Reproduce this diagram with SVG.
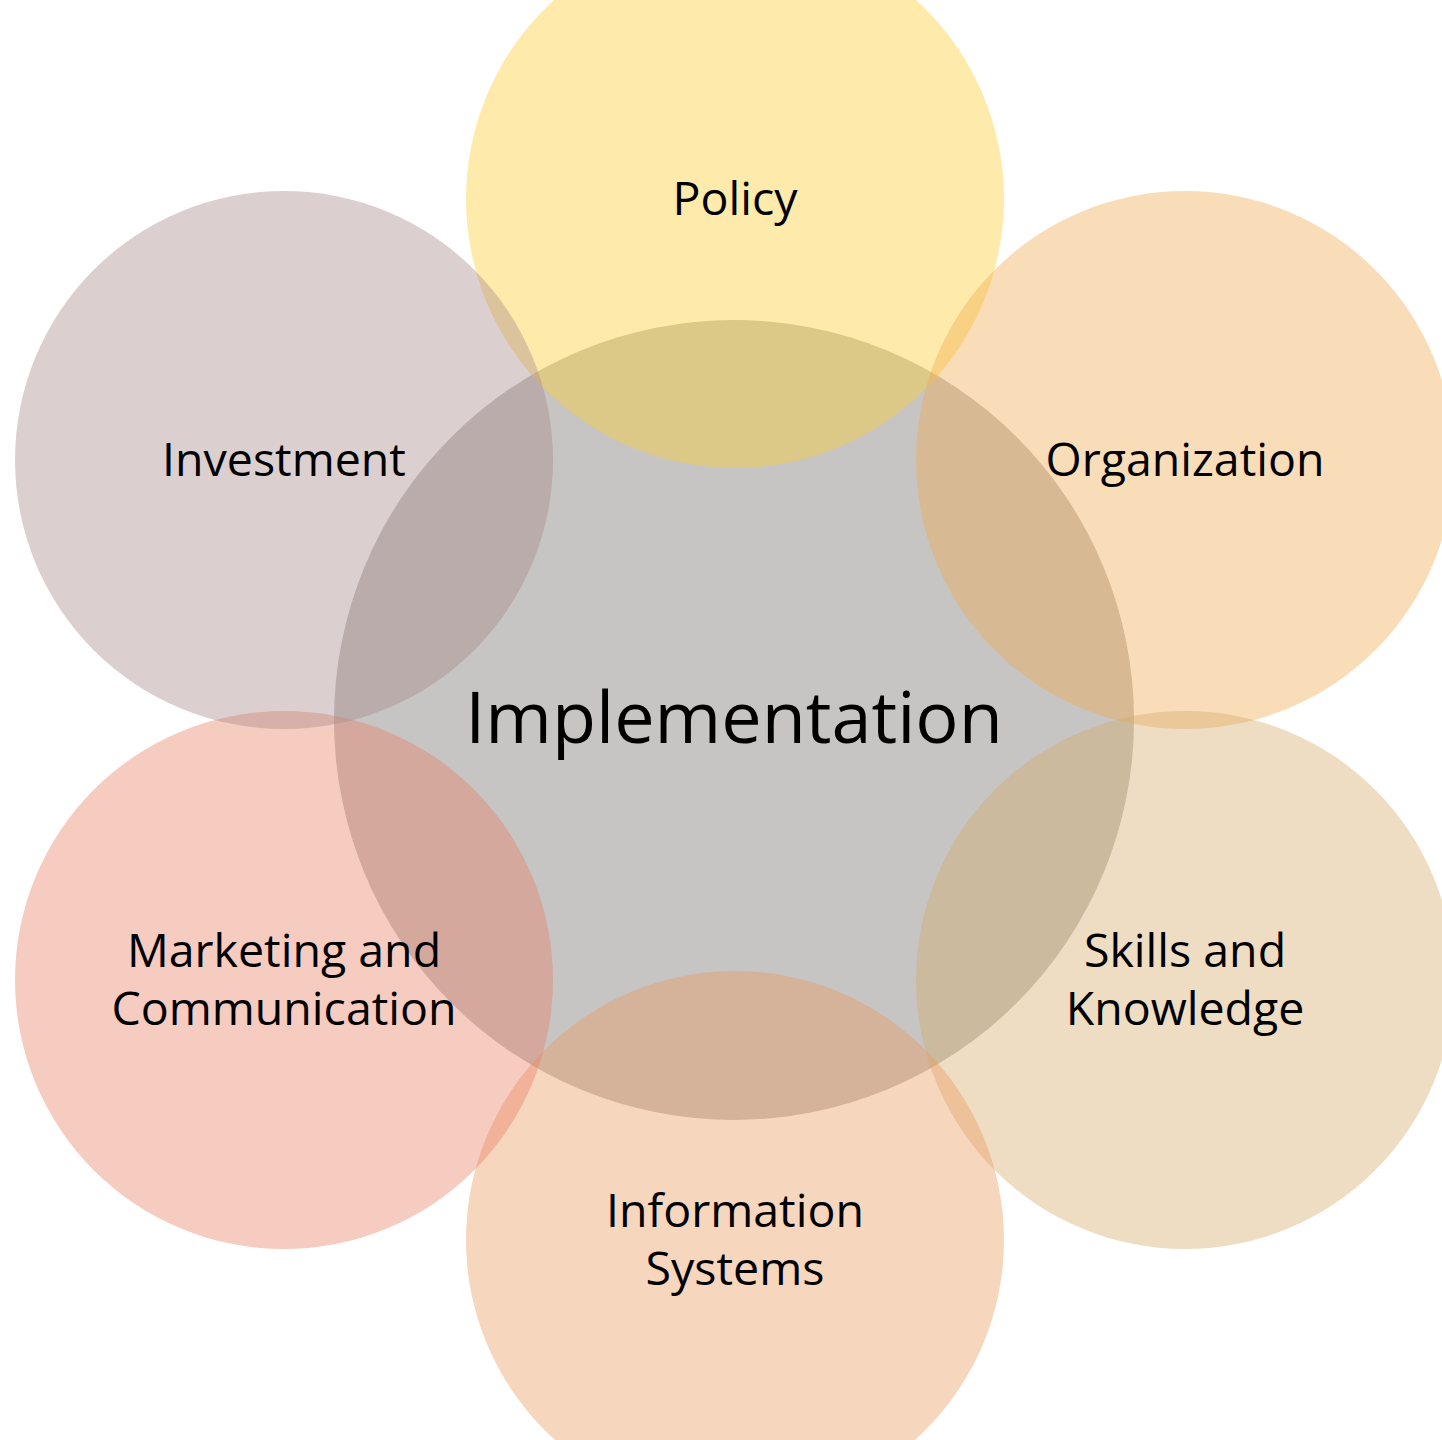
<svg xmlns="http://www.w3.org/2000/svg" width="1442" height="1440" viewBox="0 0 1442 1440">
<style>
.lbl{font-family:"Open Sans","Noto Sans",sans-serif;font-size:46.5px;fill:#000;text-anchor:middle}
.big{font-size:72px}
.sat{fill-opacity:0.4}
</style>
<rect width="1442" height="1440" fill="#fff"/>
<g id="implementation">
<circle cx="734" cy="720" r="400" fill="#c6c5c4"/>
</g>
<g id="policy">
<circle class="sat" cx="735" cy="199" r="269" fill="#fccd2d"/>
</g>
<g id="organization">
<circle class="sat" cx="1185" cy="460" r="269" fill="#f0aa4e"/>
</g>
<g id="skills">
<circle class="sat" cx="1185" cy="980" r="269" fill="#d4aa69"/>
</g>
<g id="information">
<circle class="sat" cx="735" cy="1240" r="269" fill="#eb985c"/>
</g>
<g id="marketing">
<circle class="sat" cx="284" cy="980" r="269" fill="#e87d62"/>
</g>
<g id="investment">
<circle class="sat" cx="284" cy="460" r="269" fill="#a88888"/>
</g>
<g id="connectors"></g>
<g id="labels">
<text class="lbl" x="735" y="215">Policy</text>
<text class="lbl" x="284" y="476">Investment</text>
<text class="lbl" x="1185" y="476">Organization</text>
<text class="lbl big" x="734" y="743">Implementation</text>
<text class="lbl" x="284" y="967">Marketing and</text>
<text class="lbl" x="284" y="1025">Communication</text>
<text class="lbl" x="1185" y="967">Skills and</text>
<text class="lbl" x="1185" y="1025">Knowledge</text>
<text class="lbl" x="735" y="1227">Information</text>
<text class="lbl" x="735" y="1285">Systems</text>
</g>
</svg>
